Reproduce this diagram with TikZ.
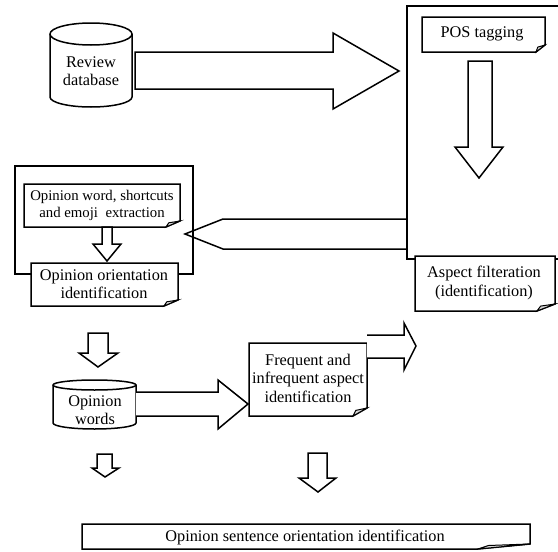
\documentclass[tikz,border=0pt]{standalone}
\usepackage{fontspec}
\setmainfont{Liberation Serif}
\tikzset{
  ln/.style={line width=1.5pt, line join=miter},
  flap/.style={line width=1pt, fill=gray!30},
  txt/.style={align=center, inner sep=0pt, font=\fontsize{16.3}{18.5}\selectfont},
  txtsm/.style={align=center, inner sep=0pt, font=\fontsize{14.8}{17}\selectfont},
}
% folded-corner box: x1,y1,x2,y2,fx,fy
\newcommand{\foldbox}[6]{%
  \draw[ln, fill=white] (#1,#2) -- (#3,#2) -- (#3,#4-#6) -- (#3-#5,#4) -- (#1,#4) -- cycle;
  \draw[flap] (#3,#4-#6) -- (#3-0.8*#5,#4-0.7*#6) -- (#3-#5,#4) -- cycle;
}
\begin{document}
\begin{tikzpicture}[x=1pt,y=-1pt]
\useasboundingbox (0,0) rectangle (558,552);
\fill[white] (0,0) rectangle (558,552);

% Review database cylinder
\draw[ln, fill=white] (50,34) -- (50,97) arc[start angle=180,end angle=360,x radius=41pt,y radius=10pt] -- (132,34) arc[start angle=0,end angle=180,x radius=41pt,y radius=11pt] -- cycle;
\draw[ln] (50,34) arc[start angle=180,end angle=360,x radius=41pt,y radius=11pt];
\node[txt] (rev) at (91,71) {Review\\database};

% big arrow to the right
\draw[ln, fill=white] (135,52) -- (333,52) -- (333,33) -- (399,71) -- (333,109) -- (333,89) -- (135,89) -- cycle;

% left pointer arrow
\draw[ln, fill=white] (407,219) -- (223,219) -- (185,234) -- (223,249) -- (407,249);

% big right container
\draw[ln] (558,6) -- (407,6) -- (407,259) -- (558,259);

% POS tagging
\foldbox{422}{17}{545}{52}{9}{7}
\node[txt] (pos) at (482,34) {POS tagging};

% down arrow in container
\draw[ln, fill=white] (468,61) -- (492,61) -- (492,147) -- (503,147) -- (479,178) -- (455,147) -- (468,147) -- cycle;

% Aspect filteration
\foldbox{415}{256}{555}{311}{18}{7}
\node[txt] (asp) at (484,283) {Aspect filteration\\(identification)};

% left container
\draw[ln] (15,166) rectangle (193,274);

% Opinion word box
\foldbox{24}{184}{180}{227}{14}{6}
\node[txtsm] (ow) at (102,205) {Opinion word, shortcuts\\and emoji\ \ extraction};

% small down arrow
\draw[ln, fill=white] (102,227) -- (112,227) -- (112,244) -- (121,244) -- (107,261) -- (93,244) -- (102,244) -- cycle;

% Opinion orientation box
\foldbox{31}{263}{178}{306}{14}{6}
\node[txt] (oo) at (104,284) {Opinion orientation\\identification};

% down arrow
\draw[ln, fill=white] (88,333) -- (108,333) -- (108,353) -- (118,353) -- (98,367) -- (79,353) -- (88,353) -- cycle;

% Opinion words cylinder
\draw[ln, fill=white] (53,385) -- (53,423) arc[start angle=180,end angle=360,x radius=41.5pt,y radius=6pt] -- (136,385) arc[start angle=0,end angle=180,x radius=41.5pt,y radius=5pt] -- cycle;
\draw[ln] (53,385) arc[start angle=180,end angle=360,x radius=41.5pt,y radius=5pt];
\node[txt] (owd) at (95,410) {Opinion\\words};

% arrow to frequent
\draw[ln, fill=white] (136,392) -- (218,392) -- (218,380) -- (248,404) -- (218,429) -- (218,416) -- (136,416);

% Frequent box
\foldbox{249}{343}{367}{416}{14}{8}
\node[txt] (fr) at (308,378) {Frequent and\\infrequent aspect\\identification};

% arrow from frequent
\draw[ln, fill=white] (367,335) -- (404,335) -- (404,323) -- (416,346) -- (404,370) -- (404,358) -- (367,358);

% small down arrow lower left
\draw[ln, fill=white] (97,454) -- (112,454) -- (112,468) -- (119,468) -- (105,477) -- (92,468) -- (97,468) -- cycle;

% down arrow lower right
\draw[ln, fill=white] (308,453) -- (327,453) -- (327,478) -- (336,478) -- (318,492) -- (299,478) -- (308,478) -- cycle;

% bottom box
\foldbox{82}{524}{530}{549}{52}{5}
\node[txt] (os) at (305,537) {Opinion sentence orientation identification};
\end{tikzpicture}
\end{document}
